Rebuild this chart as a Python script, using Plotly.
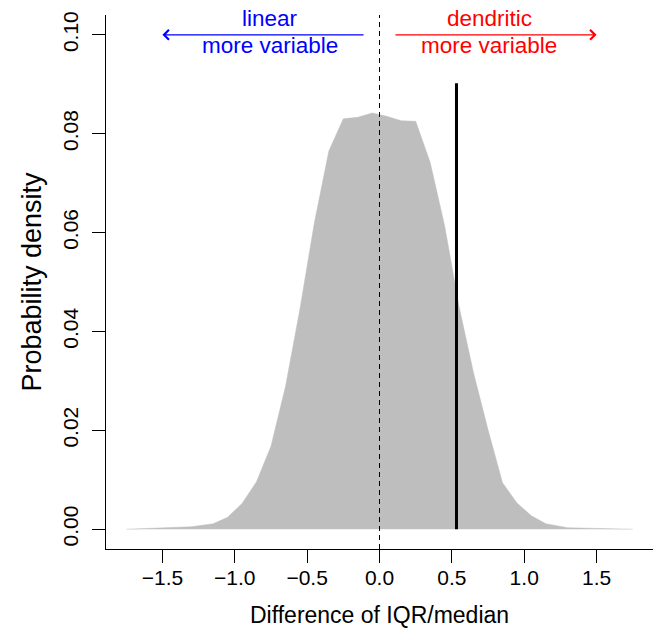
import plotly.graph_objects as go

# Density curve (difference of IQR/median)
x_vals = [-1.75, -1.5, -1.3, -1.15, -1.05, -0.95, -0.85, -0.75, -0.65, -0.55,
          -0.45, -0.35, -0.25, -0.15, -0.05, 0.05, 0.15, 0.25, 0.35, 0.45,
          0.55, 0.65, 0.75, 0.85, 0.95, 1.05, 1.15, 1.3, 1.5, 1.75]
density = [0.0, 0.0002, 0.0005, 0.0011, 0.0024, 0.0052, 0.0096, 0.0168, 0.0288, 0.0445,
           0.0620, 0.0765, 0.0830, 0.0833, 0.0842, 0.0835, 0.0826, 0.0825, 0.0742, 0.0614,
           0.0450, 0.0316, 0.0201, 0.0094, 0.0053, 0.0027, 0.0011, 0.0003, 0.0001, 0.0]

observed_x = 0.532
observed_top = 0.0902

x_ticks = [-1.5, -1.0, -0.5, 0.0, 0.5, 1.0, 1.5]
y_ticks = [0.00, 0.02, 0.04, 0.06, 0.08, 0.10]

FONT = "Liberation Sans, Arial, Helvetica, sans-serif"

fig = go.Figure()
fig.add_trace(go.Scatter(
    x=x_vals, y=density, mode="lines", fill="tozeroy",
    fillcolor="#BEBEBE", line=dict(color="#BEBEBE", width=0.5),
    hoverinfo="skip", showlegend=False))
fig.add_trace(go.Scatter(
    x=[observed_x, observed_x], y=[0, observed_top], mode="lines",
    line=dict(color="black", width=3), showlegend=False))

# dashed reference line at 0
fig.add_shape(type="line", xref="x", yref="paper", x0=0, x1=0, y0=0, y1=1,
              line=dict(color="black", width=1, dash="5px,4px"))

arrow_y = 0.1
fig.add_annotation(x=-1.5, y=arrow_y, ax=-0.1, ay=arrow_y, xref="x", yref="y",
                   axref="x", ayref="y", showarrow=True, arrowhead=4, arrowsize=1.6,
                   arrowwidth=1.2, arrowcolor="blue", text="", standoff=0)
fig.add_annotation(x=1.5, y=arrow_y, ax=0.1, ay=arrow_y, xref="x", yref="y",
                   axref="x", ayref="y", showarrow=True, arrowhead=4, arrowsize=1.6,
                   arrowwidth=1.2, arrowcolor="red", text="", standoff=0)
for xc, col, top, bottom in [(-0.76, "blue", "linear", "more variable"),
                             (0.76, "red", "dendritic", "more variable")]:
    fig.add_annotation(x=xc, y=arrow_y, xref="x", yref="y", text=top, showarrow=False,
                       yanchor="middle", yshift=16, font=dict(color=col, size=22.5, family=FONT))
    fig.add_annotation(x=xc, y=arrow_y, xref="x", yref="y", text=bottom, showarrow=False,
                       yanchor="middle", yshift=-11, font=dict(color=col, size=22.5, family=FONT))

# x-axis title as paper annotation
fig.add_annotation(x=0.5, y=0, xref="paper", yref="paper", text="Difference of IQR/median",
                   showarrow=False, yanchor="middle", yshift=-66,
                   font=dict(size=23, family=FONT, color="black"))

fig.update_layout(
    width=657, height=629,
    margin=dict(l=106, r=4, t=15, b=80),
    plot_bgcolor="white", paper_bgcolor="white",
    font=dict(family=FONT, color="black", size=21),
    xaxis=dict(range=[-1.89, 1.89], tickvals=x_ticks, tickformat=".1f",
               showline=True, linecolor="black", linewidth=1, mirror=False,
               ticks="outside", ticklen=13, tickwidth=1, tickcolor="black",
               ticklabelstandoff=-3, automargin=False,
               showgrid=False, zeroline=False),
    yaxis=dict(range=[-0.004, 0.104], tickvals=y_ticks, tickformat=".2f", tickangle=-90,
               showline=True, linecolor="black", linewidth=1, mirror=False,
               ticks="outside", ticklen=13, tickwidth=1, tickcolor="black",
               ticklabelstandoff=6, automargin=False,
               showgrid=False, zeroline=False,
               title=dict(text="Probability density", font=dict(size=27), standoff=9)),
)

fig.write_html("out.html", config={"displayModeBar": False},
               post_script="document.body.style.margin='0px';")
